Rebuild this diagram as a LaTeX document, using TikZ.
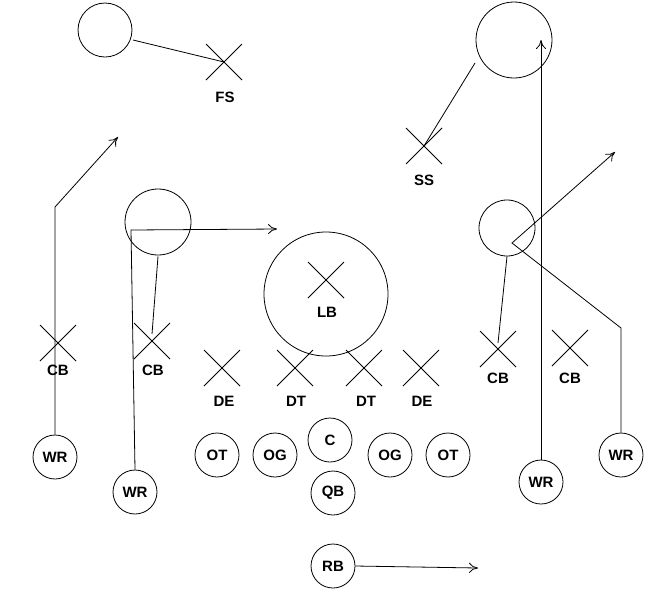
\documentclass[tikz,border=0pt]{standalone}
\usepackage{fontspec}
\setmainfont{Liberation Sans}
\usetikzlibrary{arrows.meta}
\begin{document}
\begin{tikzpicture}[x=1pt,y=-1pt,line width=0.8pt,
  pl/.style={circle,draw,minimum size=44pt,inner sep=0pt,font=\fontsize{15}{15}\selectfont\bfseries},
  lb/.style={font=\fontsize{15}{15}\selectfont\bfseries},
  zone/.style={circle,draw,inner sep=0pt},
  arr/.style={-{To[length=9pt,width=10pt]}}]
\useasboundingbox (0,0) rectangle (671,606);
\newcommand{\xmark}[2]{\draw (#1-18,#2-18) -- (#1+18,#2+18) (#1-18,#2+18) -- (#1+18,#2-18);}
% defenders
\xmark{224}{62}\node[lb] (fs) at (225,97) {FS};
\xmark{424}{146}\node[lb] (ss) at (424,180) {SS};
\xmark{58}{343}\node[lb] (cb1) at (58,370) {CB};
\xmark{152}{341}\node[lb] (cb2) at (153,370) {CB};
\xmark{326}{280}\node[lb] (lb) at (327,312) {LB};
\xmark{222}{368}\node[lb] (de1) at (224,401) {DE};
\xmark{295}{368}\node[lb] (dt1) at (296,401) {DT};
\xmark{364}{368}\node[lb] (dt2) at (366,401) {DT};
\xmark{421}{368}\node[lb] (de2) at (422,401) {DE};
\xmark{498}{349}\node[lb] (cb3) at (498,378) {CB};
\xmark{570}{348}\node[lb] (cb4) at (570,378) {CB};
% zones
\node[zone,minimum size=54pt] (z1) at (105,30) {};
\node[zone,minimum size=76pt] (z2) at (514,40) {};
\node[zone,minimum size=66pt] (z3) at (158,222) {};
\node[zone,minimum size=124pt] (z4) at (326,294) {};
\node[zone,minimum size=56pt] (z5) at (507,228) {};
% offense
\node[pl] (wr1) at (55,457) {WR};
\node[pl] (wr2) at (135,492) {WR};
\node[pl] (ot1) at (217,455) {OT};
\node[pl] (og1) at (275,455) {OG};
\node[pl] (c) at (330,440) {C};
\node[pl] (og2) at (390,455) {OG};
\node[pl] (ot2) at (448,455) {OT};
\node[pl] (qb) at (333,493) {QB};
\node[pl] (rb) at (333,566) {RB};
\node[pl] (wr3) at (541,482) {WR};
\node[pl] (wr4) at (621,455) {WR};
% coverage lines
\coordinate (fsx) at (224,62);
\coordinate (ssx) at (424,146);
\draw (133,40) -- (fsx);
\draw (475,63) -- (ssx);
\draw (z3.south) ++(0,1) -- (152,334);
\draw (z5.south) -- (498,343);
% routes
\coordinate (e1) at (118,137);
\coordinate (e2) at (277,229);
\coordinate (e3) at (478,568);
\coordinate (e4) at (541,40);
\coordinate (e5) at (615,152);
\draw[arr] (wr1.north) -- (55,207) -- (e1);
\draw[arr] (wr2.north) -- (131,230) -- (e2);
\draw[arr] (rb.east) -- (e3);
\draw[arr] (wr3.north) -- (e4);
\draw[arr] (wr4.north) -- (621,328) -- (512,243) -- (e5);
\end{tikzpicture}
\end{document}
